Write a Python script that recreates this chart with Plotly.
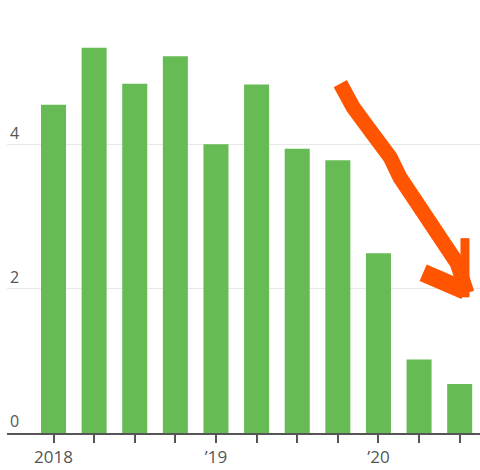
import plotly.graph_objects as go

quarters = ["2018 Q1", "2018 Q2", "2018 Q3", "2018 Q4",
            "2019 Q1", "2019 Q2", "2019 Q3", "2019 Q4",
            "2020 Q1", "2020 Q2", "2020 Q3"]
values = [4.55, 5.34, 4.84, 5.22, 4.0, 4.83, 3.94, 3.78, 2.49, 1.02, 0.68]
tick_labels = ["2018", "", "", "", "\u201919", "", "", "", "\u201920", "", ""]
y_ticks = [0, 2, 4, 6]
y_tick_labels = ["0", "2", "4", ""]

# hand-drawn arrow annotation (in data units: x = bar index, y = value)
arrow_shaft_x = [7.06, 7.38, 7.80, 8.29, 8.53, 8.95, 9.45, 9.94, 10.18]
arrow_shaft_y = [4.84, 4.51, 4.19, 3.82, 3.54, 3.18, 2.77, 2.35, 1.94]
arrow_head1_x = [9.10, 10.13]
arrow_head1_y = [2.22, 1.97]
arrow_head2_x = [10.13, 10.13]
arrow_head2_y = [2.70, 1.88]

idx = list(range(len(quarters)))

fig = go.Figure()
fig.add_trace(go.Bar(x=idx, y=values, marker=dict(color="#66bb55", line=dict(width=0)),
                     customdata=quarters, hovertemplate="%{customdata}: %{y}<extra></extra>"))

arrow_color = "#ff5500"
fig.add_trace(go.Scatter(x=arrow_shaft_x, y=arrow_shaft_y, mode="lines",
                         line=dict(color=arrow_color, width=15), hoverinfo="skip"))
fig.add_trace(go.Scatter(x=arrow_head1_x, y=arrow_head1_y, mode="lines",
                         line=dict(color=arrow_color, width=18), hoverinfo="skip"))
fig.add_trace(go.Scatter(x=arrow_head2_x, y=arrow_head2_y, mode="lines",
                         line=dict(color=arrow_color, width=9), hoverinfo="skip"))

fig.update_layout(
    width=480, height=470,
    margin=dict(l=7, r=0, t=0, b=37),
    paper_bgcolor="white", plot_bgcolor="white",
    showlegend=False, bargap=0.384,
    font=dict(family="Open Sans", size=16, color="#555555"),
    xaxis=dict(
        range=[-1.145, 10.5],
        tickmode="array", tickvals=idx, ticktext=tick_labels,
        ticks="outside", ticklen=8, tickwidth=1.5, tickcolor="#555555",
        showline=True, linecolor="#555555", linewidth=2,
        showgrid=False, zeroline=False,
        tickfont=dict(size=17, color="#555555"),
    ),
    yaxis=dict(
        range=[0, 6],
        tickmode="array", tickvals=y_ticks, ticktext=y_tick_labels,
        ticklabelposition="inside top",
        showgrid=True, gridcolor="#e8e8e8", gridwidth=1,
        zeroline=False, showline=False, ticks="",
        tickfont=dict(size=16, color="#555555"),
    ),
)

fig.write_html("out.html")
